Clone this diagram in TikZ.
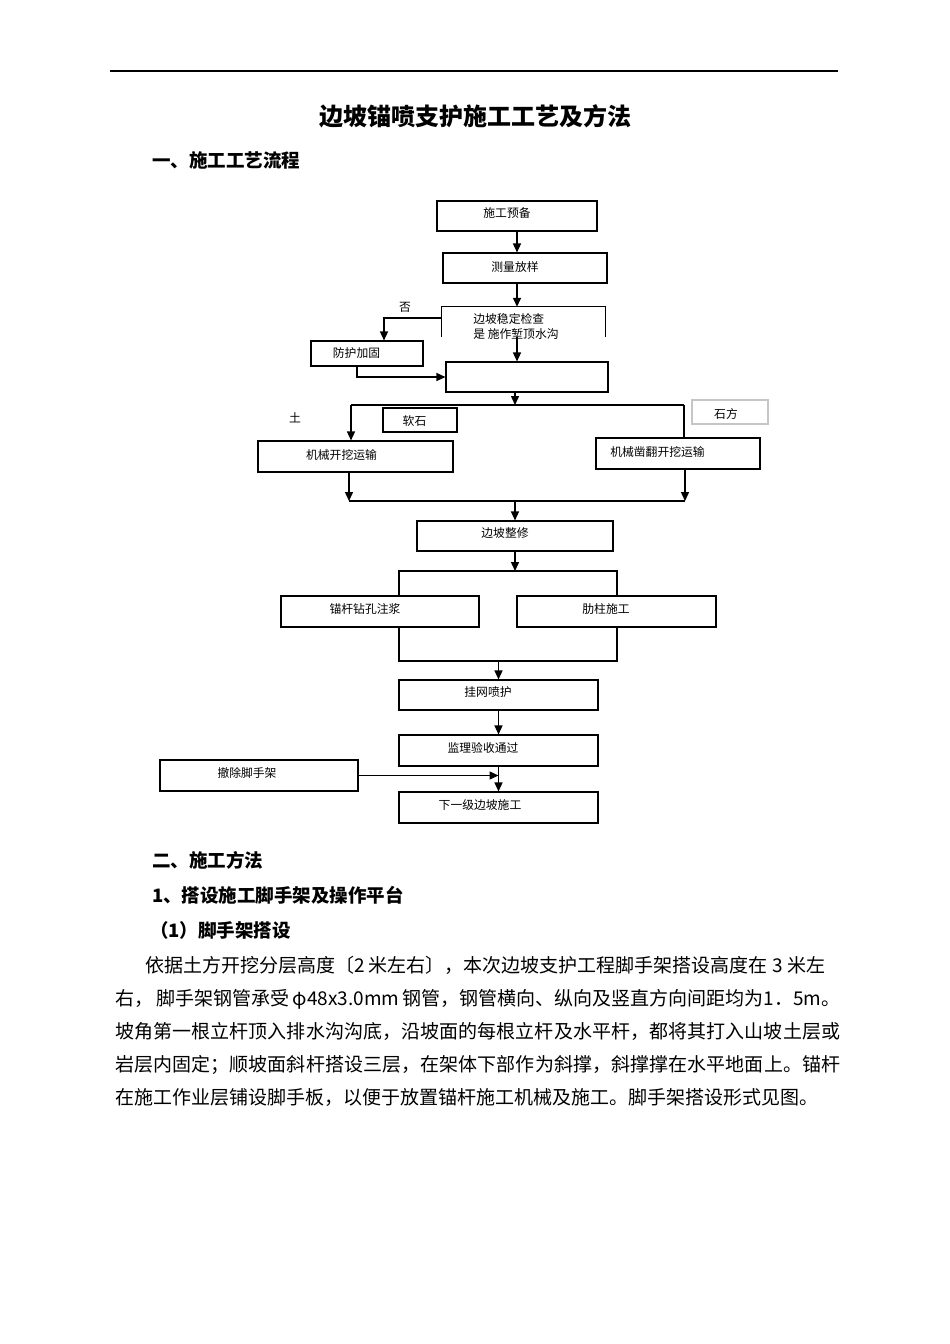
\documentclass[tikz,border=0pt]{standalone}
\usepackage{fontspec}
\setmainfont{Noto Sans CJK SC}
\usetikzlibrary{arrows.meta}
\XeTeXlinebreaklocale "zh"
\XeTeXlinebreakskip=0pt plus 2pt

\tikzset{
    box/.style={draw, line width=1.1pt, inner sep=0pt},
    boxtext/.style={font=\fontsize{11.8}{15}\selectfont, inner sep=0pt},
    flow/.style={line width=1.4pt, -{Triangle[length=9pt,width=8pt]}},
    link/.style={line width=1.4pt},
    heading/.style={anchor=west, inner sep=0pt, font=\fontsize{18.5}{22}\selectfont\bfseries},
}

\begin{document}
\begin{tikzpicture}[x=1pt,y=-1pt]

            \fill[white] (0,0) rectangle (950,1344);
            \useasboundingbox (0,0) rectangle (950,1344);

            \draw[line width=1.2pt] (110,71) -- (838,71);
            \node[font=\fontsize{24}{28}\selectfont\bfseries] (title) at (475,116) {边坡锚喷支护施工工艺及方法};
            \node[heading] (part1) at (152,160) {一、施工工艺流程};

            \node[box, minimum width=160pt, minimum height=30pt, label={[boxtext, xshift=-10pt, yshift=3pt]center:施工预备}] (prep) at (517,216) {};
            \node[box, minimum width=164pt, minimum height=30pt, label={[boxtext, xshift=-10pt, yshift=1pt]center:测量放样}] (survey) at (525,268) {};
            \node[minimum width=163pt, minimum height=30pt, inner sep=0pt, label={[boxtext, align=left, xshift=-7.5pt, yshift=-4.5pt]center:边坡稳定检查\\是 施作堑顶水沟}] (check) at (523.5,322) {};
            \node[box, minimum width=112pt, minimum height=25pt, label={[boxtext, xshift=-10.5pt, yshift=0.5pt]center:防护加固}] (guard) at (367,353.5) {};
            \node[box, minimum width=162pt, minimum height=30pt] (blank) at (527,377) {};
            \node[box, minimum width=74pt, minimum height=24pt, label={[boxtext, xshift=-5.5pt, yshift=-1pt]center:软石}] (soft) at (420,420) {};
            \node[box, draw=gray!45, minimum width=76pt, minimum height=24pt, label={[boxtext, xshift=-4pt, yshift=-2pt]center:石方}] (stone) at (730,412) {};
            \node[box, minimum width=195pt, minimum height=31pt, label={[boxtext, xshift=-14pt, yshift=1.5pt]center:机械开挖运输}] (dig) at (355.5,456.5) {};
            \node[box, minimum width=164pt, minimum height=31pt, label={[boxtext, xshift=-20.5pt, yshift=1.5pt]center:机械凿翻开挖运输}] (rock) at (678,453.5) {};
            \node[box, minimum width=196pt, minimum height=30pt, label={[boxtext, xshift=-10pt, yshift=3pt]center:边坡整修}] (trim) at (515,536) {};
            \node[box, minimum width=198pt, minimum height=31pt, label={[boxtext, xshift=-15pt, yshift=2.5pt]center:锚杆钻孔注浆}] (bolt) at (380,611.5) {};
            \node[box, minimum width=199pt, minimum height=31pt, label={[boxtext, xshift=-10.5pt, yshift=2.5pt]center:肋柱施工}] (rib) at (616.5,611.5) {};
            \node[box, minimum width=199pt, minimum height=30pt, label={[boxtext, xshift=-10.5pt, yshift=3pt]center:挂网喷护}] (mesh) at (498.5,695) {};
            \node[box, minimum width=199pt, minimum height=31pt, label={[boxtext, xshift=-15.5pt, yshift=2.5pt]center:监理验收通过}] (accept) at (498.5,750.5) {};
            \node[box, minimum width=198pt, minimum height=31pt, label={[boxtext, xshift=-12pt, yshift=2.5pt]center:撤除脚手架}] (remove) at (259,775.5) {};
            \node[box, minimum width=199pt, minimum height=31pt, label={[boxtext, xshift=-18.5pt, yshift=2.5pt]center:下一级边坡施工}] (next) at (498.5,807.5) {};

            \node[boxtext] (no) at (405,307) {否};
            \node[boxtext] (soil) at (295,418) {土};

            \draw[line width=1.1pt] (check.south west) -- (check.north west) -- (check.north east) -- (check.south east);

            \coordinate (split) at (515,405);
            \coordinate (splitL) at (351,405);
            \coordinate (splitR) at (684,405);
            \coordinate (joinL) at (349,501);
            \coordinate (joinR) at (685,501);
            \coordinate (forkL) at (399,571);
            \coordinate (forkR) at (617,571);
            \coordinate (mergeL) at (399,661);
            \coordinate (mergeR) at (617,661);

            \draw[flow] (prep.south) -- (prep.south |- survey.north);
            \draw[flow] (prep.south |- survey.south) -- (prep.south |- check.north);
            \draw[flow] (prep.south |- check.south) -- (prep.south |- blank.north);
            \draw[flow] ([yshift=4pt]check.west) -| ([xshift=17pt]guard.north);
            \draw[flow] ([xshift=-10pt]guard.south) |- (blank.west);
            \draw[flow] (blank.south -| split) -- (split);

            \draw[link] (splitL) -- (splitR);
            \draw[flow] (splitL) -- (splitL |- dig.north);
            \draw[link] (splitR) -- (splitR |- rock.north);
            \draw[flow] (dig.south -| joinL) -- (joinL);
            \draw[flow] (rock.south -| joinR) -- (joinR);
            \draw[link] (joinL) -- (joinR);
            \draw[flow] (trim.north |- joinL) -- (trim.north);

            \draw[flow] (trim.south) -- (trim.south |- forkL);
            \draw[link] (bolt.north -| forkL) -- (forkL) -- (forkR) -- (rib.north -| forkR);
            \draw[link] (bolt.south -| mergeL) -- (mergeL) -- (mergeR) -- (rib.south -| mergeR);
            \draw[flow] (mesh.north |- mergeL) -- (mesh.north);
            \draw[flow] (mesh.south) -- (accept.north);
            \draw[flow] (accept.south) -- (next.north);
            \draw[flow] (remove.east) -- (remove.east -| next.north);

            \node[heading] (part2) at (152,860) {二、施工方法};
            \node[heading] (sec1) at (152,895) {1、搭设施工脚手架及操作平台};
            \node[heading] (sub1) at (150,930) {（1）脚手架搭设};

            \node[anchor=north west, inner sep=0pt, text width=725pt, align=justify, font=\fontsize{19}{33}\selectfont] (body) at (115,956) {\hspace*{30pt}依据土方开挖分层高度〔2 米左右〕，本次边坡支护工程脚手架搭设高度在 3 米左\\
            右， 脚手架钢管承受 φ48x3.0mm 钢管，钢管横向、纵向及竖直方向间距均为1．5m。\linebreak
            坡角第一根立杆顶入排水沟沟底，沿坡面的每根立杆及水平杆，都将其打入山坡土层或\linebreak
            岩层内固定；顺坡面斜杆搭设三层，在架体下部作为斜撑，斜撑撑在水平地面上。锚杆\linebreak
            在施工作业层铺设脚手板，以便于放置锚杆施工机械及施工。脚手架搭设形式见图。};

\end{tikzpicture}
\end{document}
